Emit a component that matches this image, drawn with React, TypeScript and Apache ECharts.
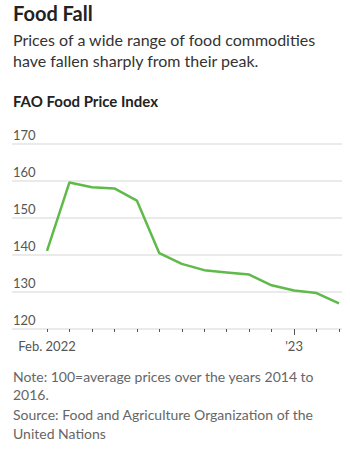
import React, { useEffect, useRef } from "react";
import * as echarts from "echarts";

const months = ["Feb. 2022", "Mar", "Apr", "May", "Jun", "Jul", "Aug", "Sep", "Oct", "Nov", "Dec", "'23", "Feb", "Mar"];
const indexValues = [141.1, 159.6, 158.3, 158.0, 154.7, 140.5, 137.6, 135.9, 135.3, 134.7, 131.8, 130.4, 129.7, 126.9];
const shownLabels = ["Feb. 2022", "'23"];
const yearStart = "'23";
const yTicks = [120, 130, 140, 150, 160, 170];

const title = "Food Fall";
const subtitle = "Prices of a wide range of food commodities\nhave fallen sharply from their peak.";
const chartLabel = "FAO Food Price Index";
const note = "Note: 100=average prices over the years 2014 to\n2016.";
const source = "Source: Food and Agriculture Organization of the\nUnited Nations";

const FONT = "Lato, 'Noto Sans', sans-serif";

export default function App() {
  const ref = useRef<HTMLDivElement>(null);
  useEffect(() => {
    document.body.style.margin = "0";
    if (!ref.current) return;
    const chart = echarts.init(ref.current, undefined, { renderer: "svg" });
    const yMin = yTicks[0];
    const yMax = yTicks[yTicks.length - 1];
    const yearIdx = months.indexOf(yearStart);
    chart.setOption({
      animation: false,
      textStyle: { fontFamily: FONT },
      grid: [
        { left: 12, right: 8, top: 144, bottom: 121 },
        { left: 47, right: 11, top: 144, bottom: 121 },
      ],
      xAxis: [
        { type: "value", gridIndex: 0, show: false, min: 0, max: 1 },
        {
          type: "category",
          gridIndex: 1,
          position: "bottom",
          data: months,
          boundaryGap: false,
          axisLine: { show: false },
          axisTick: {
            show: true,
            length: 3,
            interval: 0,
            lineStyle: { color: "#555", width: 1 },
          },
          axisLabel: {
            show: true,
            interval: 0,
            margin: 10,
            color: "#555",
            fontSize: 13,
            fontFamily: FONT,
            formatter: (v: string) => (shownLabels.includes(v) ? v : ""),
          },
          splitLine: { show: false },
        },
        {
          type: "category",
          gridIndex: 1,
          position: "bottom",
          offset: 0,
          data: months,
          boundaryGap: false,
          axisLine: { show: false },
          axisTick: {
            show: true,
            length: 6,
            interval: (i: number) => i === yearIdx,
            lineStyle: { color: "#555", width: 1 },
          },
          axisLabel: { show: false },
          splitLine: { show: false },
        },
      ],
      yAxis: [
        {
          type: "value",
          gridIndex: 0,
          min: yMin,
          max: yMax,
          interval: 10,
          axisLine: { show: false },
          axisTick: { show: false },
          axisLabel: {
            inside: true,
            margin: 1,
            verticalAlign: "bottom",
            padding: [0, 0, 3, 0],
            color: "#555",
            fontSize: 13,
            fontFamily: FONT,
          },
          splitLine: { show: true, lineStyle: { color: "#e3e3e3", width: 1.5 } },
        },
        {
          type: "value",
          gridIndex: 1,
          min: yMin,
          max: yMax,
          interval: 10,
          show: false,
        },
      ],
      series: [
        {
          type: "line",
          xAxisIndex: 1,
          yAxisIndex: 1,
          data: indexValues,
          symbol: "none",
          lineStyle: { color: "#5fba4a", width: 2.5 },
        },
      ],
      graphic: [
        {
          type: "text",
          left: 13,
          top: 3,
          style: { text: title, font: `bold 20px ${FONT}`, fill: "#222" },
        },
        {
          type: "text",
          left: 13,
          top: 29,
          style: { text: subtitle, font: `16px ${FONT}`, fill: "#333", lineHeight: 21 },
        },
        {
          type: "text",
          left: 13,
          top: 93,
          style: { text: chartLabel, font: `bold 15px ${FONT}`, fill: "#222" },
        },
        {
          type: "text",
          left: 13,
          top: 368,
          style: { text: note, font: `14px ${FONT}`, fill: "#666", lineHeight: 17.5 },
        },
        {
          type: "text",
          left: 13,
          top: 405,
          style: { text: source, font: `14px ${FONT}`, fill: "#666", lineHeight: 19 },
        },
      ],
    });
    return () => chart.dispose();
  }, []);
  return <div ref={ref} style={{ width: 350, height: 450 }} />;
}
